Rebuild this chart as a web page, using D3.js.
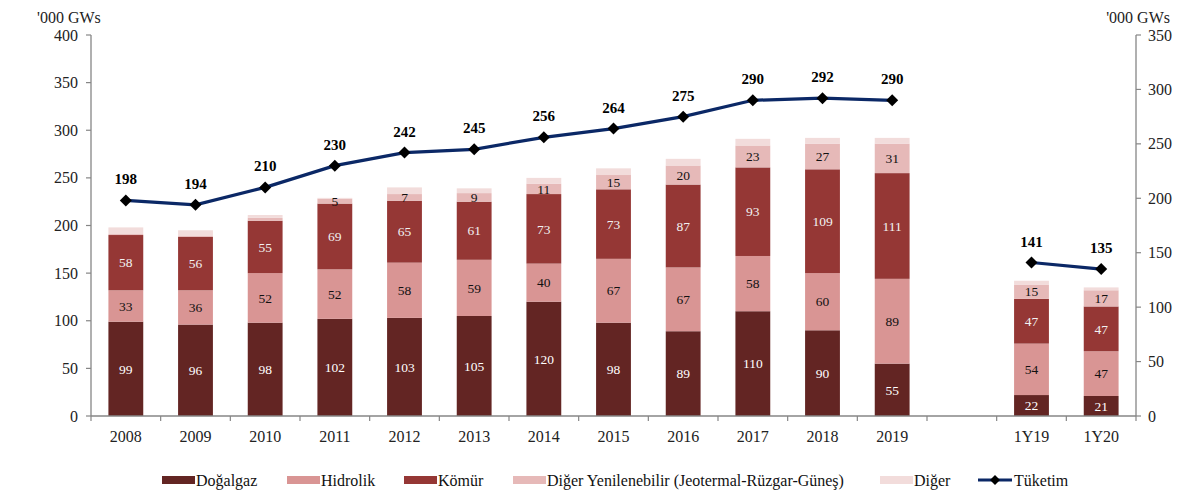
<!DOCTYPE html>
<html>
<head>
<meta charset="utf-8">
<script src="https://cdnjs.cloudflare.com/ajax/libs/d3/7.8.5/d3.min.js"></script>
<style>
  html, body { margin: 0; padding: 0; background: #fff; }
  svg { display: block; }
  text { font-family: "Liberation Serif", "Times New Roman", serif; }
</style>
</head>
<body>
<div id="chart"></div>
<script>
// ---- Data ----
const categories = ["2008","2009","2010","2011","2012","2013","2014","2015","2016","2017","2018","2019"," ","1Y19","1Y20"];
const dogalgaz   = [99, 96, 98, 102, 103, 105, 120, 98, 89, 110, 90, 55, null, 22, 21];
const hidrolik   = [33, 36, 52, 52, 58, 59, 40, 67, 67, 58, 60, 89, null, 54, 47];
const komur      = [58, 56, 55, 69, 65, 61, 73, 73, 87, 93, 109, 111, null, 47, 47];
const digerYen   = [1, 1, 3, 5, 7, 9, 11, 15, 20, 23, 27, 31, null, 15, 17];
const diger      = [7, 6, 3, 1, 7, 5, 6, 7, 7, 7, 6, 6, null, 4, 3];
const tuketim    = [198, 194, 210, 230, 242, 245, 256, 264, 275, 290, 292, 290, null, 141, 135];
const leftTicks  = [0, 50, 100, 150, 200, 250, 300, 350, 400];
const rightTicks = [0, 50, 100, 150, 200, 250, 300, 350];
const unitLabel = "'000 GWs";

const seriesNames = ["Doğalgaz", "Hidrolik", "Kömür", "Diğer Yenilenebilir (Jeotermal-Rüzgar-Güneş)", "Diğer"];
const seriesValues = [dogalgaz, hidrolik, komur, digerYen, diger];
const seriesColors = ["#632523", "#d99594", "#953735", "#e6b9b8", "#f2dcdb"];
const labelColors  = ["#ffffff", "#111111", "#f2f2f2", "#111111", null];
const labelMin     = [0, 0, 0, 5, Infinity]; // series 4 (Diğer) has no labels; tiny DY not labelled
const lineName = "Tüketim";

// ---- Layout ----
const W = 1181, H = 491;
const svg = d3.select("#chart").append("svg").attr("width", W).attr("height", H);

const x = d3.scaleBand().domain(categories).range([91, 1136]).paddingInner(0.5).paddingOuter(0.25);
const yL = d3.scaleLinear().domain([0, 400]).range([416, 35]);
const yR = d3.scaleLinear().domain([0, 350]).range([416, 35]);

const axisColor = "#868686";

// ---- Bars ----
const stackData = categories.map((c, i) => {
  const o = { cat: c };
  seriesValues.forEach((arr, k) => o["s" + k] = arr[i] == null ? 0 : arr[i]);
  return o;
});
const stack = d3.stack().keys(seriesValues.map((_, k) => "s" + k));
const stacked = stack(stackData);

const gBars = svg.append("g");
stacked.forEach((layer, k) => {
  gBars.selectAll(null).data(layer).join("rect")
    .filter(d => d[1] - d[0] > 0)
    .attr("x", d => x(d.data.cat))
    .attr("width", x.bandwidth())
    .attr("y", d => yL(d[1]))
    .attr("height", d => yL(d[0]) - yL(d[1]))
    .attr("fill", seriesColors[k]);
});

// segment labels
stacked.forEach((layer, k) => {
  if (!labelColors[k]) return;
  gBars.selectAll(null).data(layer.filter(d => (d[1] - d[0]) >= labelMin[k] && d[1] - d[0] > 0)).join("text")
    .attr("x", d => x(d.data.cat) + x.bandwidth() / 2)
    .attr("y", d => (yL(d[0]) + yL(d[1])) / 2)
    .attr("dy", "0.35em")
    .attr("text-anchor", "middle")
    .attr("font-size", 13.5)
    .attr("fill", labelColors[k])
    .text(d => d[1] - d[0]);
});

// ---- Axes ----
const gx = svg.append("g").attr("transform", "translate(0,416)");
gx.append("line").attr("x1", 91).attr("x2", 1136).attr("y1", 0).attr("y2", 0).attr("stroke", axisColor).attr("stroke-width", 1.3);
const step = x.step();
const boundaries = d3.range(categories.length + 1).map(i => 91 + i * step);
gx.selectAll(null).data(boundaries).join("line")
  .attr("x1", d => d).attr("x2", d => d).attr("y1", 0).attr("y2", 5)
  .attr("stroke", axisColor).attr("stroke-width", 1.2);
gx.selectAll(null).data(categories.filter(c => c.trim() !== "")).join("text")
  .attr("x", d => x(d) + x.bandwidth() / 2)
  .attr("y", 26)
  .attr("text-anchor", "middle")
  .attr("font-size", 16)
  .attr("fill", "#222")
  .text(d => d);

const gyL = svg.append("g");
gyL.append("line").attr("x1", 91).attr("x2", 91).attr("y1", yL(400)).attr("y2", yL(0)).attr("stroke", axisColor).attr("stroke-width", 1.3);
gyL.selectAll(null).data(leftTicks).join("line")
  .attr("x1", 86).attr("x2", 91).attr("y1", d => yL(d)).attr("y2", d => yL(d))
  .attr("stroke", axisColor).attr("stroke-width", 1.2);
gyL.selectAll(null).data(leftTicks).join("text")
  .attr("x", 78).attr("y", d => yL(d)).attr("dy", "0.35em")
  .attr("text-anchor", "end").attr("font-size", 16).attr("fill", "#222")
  .text(d => d);
svg.append("text").attr("x", 37).attr("y", 23).attr("font-size", 16).attr("fill", "#222").text(unitLabel);

const gyR = svg.append("g");
gyR.append("line").attr("x1", 1136).attr("x2", 1136).attr("y1", yR(350)).attr("y2", yR(0)).attr("stroke", axisColor).attr("stroke-width", 1.3);
gyR.selectAll(null).data(rightTicks).join("line")
  .attr("x1", 1136).attr("x2", 1141).attr("y1", d => yR(d)).attr("y2", d => yR(d))
  .attr("stroke", axisColor).attr("stroke-width", 1.2);
gyR.selectAll(null).data(rightTicks).join("text")
  .attr("x", 1148).attr("y", d => yR(d)).attr("dy", "0.35em")
  .attr("text-anchor", "start").attr("font-size", 16).attr("fill", "#222")
  .text(d => d);
svg.append("text").attr("x", 1170).attr("y", 23).attr("text-anchor", "end").attr("font-size", 16).attr("fill", "#222").text(unitLabel);

// ---- Line ----
const linePts = categories.map((c, i) => ({ cat: c, v: tuketim[i] }));
const line = d3.line()
  .defined(d => d.v != null)
  .x(d => x(d.cat) + x.bandwidth() / 2)
  .y(d => yR(d.v));
svg.append("path").datum(linePts)
  .attr("d", line)
  .attr("fill", "none")
  .attr("stroke", "#0b2866")
  .attr("stroke-width", 3.2);

const diamond = (cx, cy, r) => `M${cx},${cy - r}L${cx + r},${cy}L${cx},${cy + r}L${cx - r},${cy}Z`;
const pts = linePts.filter(d => d.v != null);
svg.selectAll(null).data(pts).join("path")
  .attr("d", d => diamond(x(d.cat) + x.bandwidth() / 2, yR(d.v), 6))
  .attr("fill", "#000");
svg.selectAll(null).data(pts).join("text")
  .attr("x", d => x(d.cat) + x.bandwidth() / 2)
  .attr("y", d => yR(d.v) - 16)
  .attr("text-anchor", "middle")
  .attr("font-size", 15)
  .attr("font-weight", "bold")
  .attr("fill", "#000")
  .text(d => d.v);

// ---- Legend ----
const legendY = 480;
const legendX = [162, 287, 404, 513, 880];
const gLeg = svg.append("g");
seriesNames.forEach((name, k) => {
  gLeg.append("rect").attr("x", legendX[k]).attr("y", legendY - 4).attr("width", 33).attr("height", 8).attr("fill", seriesColors[k]);
  gLeg.append("text").attr("x", legendX[k] + 34).attr("y", legendY).attr("dy", "0.35em").attr("font-size", 16).attr("fill", "#111").text(name);
});
const lx = 978;
gLeg.append("line").attr("x1", lx).attr("x2", lx + 34).attr("y1", legendY).attr("y2", legendY).attr("stroke", "#0b2866").attr("stroke-width", 3.2);
gLeg.append("path").attr("d", diamond(lx + 17, legendY, 5)).attr("fill", "#000");
gLeg.append("text").attr("x", lx + 36).attr("y", legendY).attr("dy", "0.35em").attr("font-size", 16).attr("fill", "#111").text(lineName);
</script>
</body>
</html>
